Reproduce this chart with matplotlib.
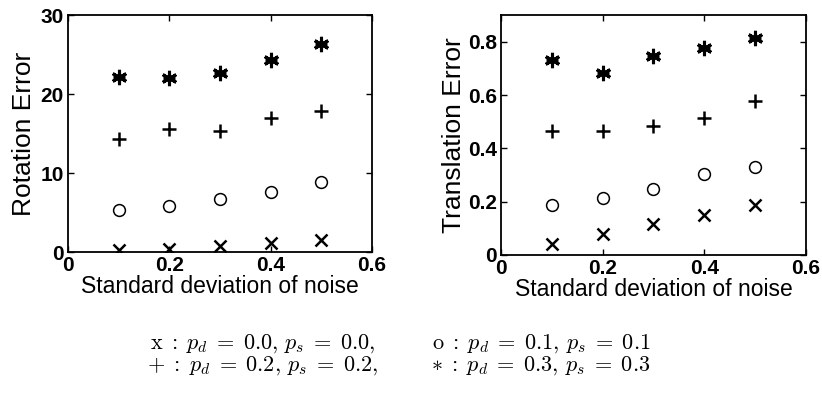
import matplotlib.pyplot as plt
import numpy as np

plt.rcParams.update({'font.family': 'Liberation Sans', 'mathtext.fontset': 'cm',
                     'axes.linewidth': 1.3, 'font.weight': 'bold'})

noise = [0.1, 0.2, 0.3, 0.4, 0.5]

# rotation error
rot_x = [0.3, 0.4, 0.8, 1.2, 1.5]
rot_o = [5.3, 5.8, 6.7, 7.6, 8.9]
rot_plus = [14.3, 15.6, 15.3, 17.0, 17.8]
rot_star = [22.2, 22.0, 22.6, 24.3, 26.3]

# translation error
tr_x = [0.04, 0.078, 0.116, 0.151, 0.189]
tr_o = [0.186, 0.212, 0.248, 0.302, 0.331]
tr_plus = [0.466, 0.464, 0.485, 0.514, 0.577]
tr_star = [0.733, 0.684, 0.746, 0.775, 0.815]

fig = plt.figure(figsize=(8.22, 3.98), dpi=100)
ax1 = fig.add_axes([0.0827, 0.3668, 0.370, 0.5955])
ax2 = fig.add_axes([0.6095, 0.3593, 0.371, 0.603])

star = (6, 2, 0)


def draw(ax, vx, vo, vp, vs):
    ax.plot(noise, vx, 'x', color='k', ms=9, mew=1.8)
    ax.plot(noise, vo, 'o', color='k', mfc='none', ms=8.5, mew=1.1)
    ax.plot(noise, vp, '+', color='k', ms=10, mew=1.8)
    ax.plot(noise, vs, marker=star, ls='none', color='k', ms=11, mew=2.2)
    ax.plot(noise, vs, marker='+', ls='none', color='k', ms=8.5, mew=2.2)
    ax.set_xlim(0, 0.6)
    ax.set_xticks([0, 0.2, 0.4, 0.6])
    ax.set_xticklabels(['0', '0.2', '0.4', '0.6'])
    ax.tick_params(direction='in', top=True, right=True, labelsize=15,
                   length=4, width=1.0, pad=3)
    ax.set_xlabel('Standard deviation of noise', fontsize=16.5, labelpad=0)


draw(ax1, rot_x, rot_o, rot_plus, rot_star)
ax1.set_ylim(0, 30)
ax1.set_yticks([0, 10, 20, 30])
ax1.set_ylabel('Rotation Error', fontsize=19, labelpad=3)

draw(ax2, tr_x, tr_o, tr_plus, tr_star)
ax2.set_ylim(0, 0.9)
ax2.set_yticks([0, 0.2, 0.4, 0.6, 0.8])
ax2.set_yticklabels(['0', '0.2', '0.4', '0.6', '0.8'])
ax2.set_ylabel('Translation Error', fontsize=19, labelpad=1)

fs = 16
left_col = (r'$\mathrm{x}\;:\;p_d\;=\;0.0,\,p_s\;=\;0.0,$' + '\n' +
            r'$+\;:\;p_d\;=\;0.2,\,p_s\;=\;0.2,$')
right_col = (r'$\mathrm{o}\;:\;p_d\;=\;0.1,\,p_s\;=\;0.1$' + '\n' +
             r'$\ast\;:\;p_d\;=\;0.3,\,p_s\;=\;0.3$')
fig.text(0.320, 0.108, left_col, fontsize=fs, ha='center', va='center',
         multialignment='center', linespacing=0.95)
fig.text(0.658, 0.108, right_col, fontsize=fs, ha='center', va='center',
         multialignment='center', linespacing=0.95)

plt.savefig('out.png', dpi=100)
